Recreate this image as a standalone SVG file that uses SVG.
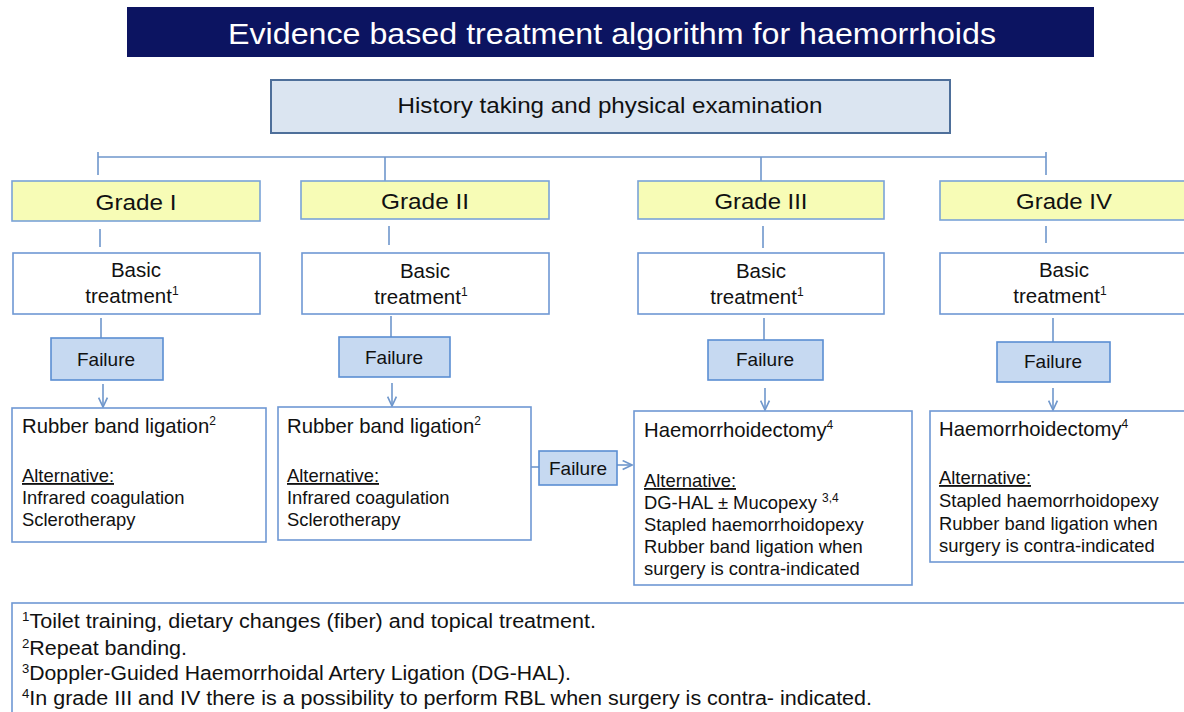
<svg xmlns="http://www.w3.org/2000/svg" width="1184" height="712" viewBox="0 0 1184 712">
  <defs>
    <style>
      text { font-family: "Liberation Sans", Arial, sans-serif; fill: #111; }
      .title { fill: #ffffff; font-size: 30px; }
      .hist { fill: #dbe5f1; stroke: #4e6f9a; stroke-width: 2; }
      .grade { fill: #f7fcb6; stroke: #7aa3d8; stroke-width: 1.6; }
      .box { fill: #ffffff; stroke: #6f98d4; stroke-width: 1.6; }
      .fail { fill: #c6d9f1; stroke: #5b8ed3; stroke-width: 1.6; }
      .line { stroke: #6f97cc; stroke-width: 1.6; fill: none; }
      .g { font-size: 22px; text-anchor: middle; }
      .b { font-size: 20.5px; text-anchor: middle; }
      .f { font-size: 19px; text-anchor: middle; }
      .h { font-size: 20.3px; }
      .t { font-size: 18.4px; }
      .u { text-decoration: underline; }
      .n { font-size: 19.5px; }
    </style>
    <marker id="arr" viewBox="0 0 10 10" refX="9.5" refY="5" markerWidth="11" markerHeight="11" markerUnits="userSpaceOnUse" orient="auto">
      <path d="M1,1 L9.5,5 L1,9" fill="none" stroke="#6f97cc" stroke-width="1.5"/>
    </marker>
  </defs>

  <!-- title banner -->
  <g id="title">
    <rect x="127" y="7" width="967" height="50" fill="#0c1461"/>
    <text class="title" x="612" y="44" text-anchor="middle" textLength="768" lengthAdjust="spacingAndGlyphs">Evidence based treatment algorithm for haemorrhoids</text>
  </g>

  <g id="history">
    <rect class="hist" x="271" y="80" width="679" height="53"/>
    <text x="610" y="113" font-size="22" text-anchor="middle" textLength="425" lengthAdjust="spacingAndGlyphs">History taking and physical examination</text>
  </g>

  <!-- connectors -->
  <g id="connectors">
    <path class="line" d="M98,157 H1046 M98,152 V175 M385,157 V181 M761,157 V181 M1046,152 V175"/>
    <path class="line" d="M100,229 V247 M389,226 V245 M763,226 V248 M1046,226 V243"/>
    <path class="line" d="M101,318 V338 M391,316 V337 M764,318 V340 M1053,318 V342"/>
    <path class="line" d="M103,384 V407" marker-end="url(#arr)"/>
    <path class="line" d="M392,383 V406" marker-end="url(#arr)"/>
    <path class="line" d="M765,388 V410" marker-end="url(#arr)"/>
    <path class="line" d="M1053,388 V410" marker-end="url(#arr)"/>
    <path class="line" d="M529,467 H539"/>
    <path class="line" d="M617,465 H632" marker-end="url(#arr)"/>
  </g>

  <!-- grade headers -->
  <g id="grade1">
    <rect class="grade" x="12" y="181" width="248" height="40"/>
    <text class="g" x="136" y="210" textLength="81" lengthAdjust="spacingAndGlyphs">Grade I</text>
  </g>
  <g id="grade2">
    <rect class="grade" x="301" y="181" width="248" height="38"/>
    <text class="g" x="425" y="209" textLength="88" lengthAdjust="spacingAndGlyphs">Grade II</text>
  </g>
  <g id="grade3">
    <rect class="grade" x="638" y="181" width="246" height="38"/>
    <text class="g" x="761" y="209" textLength="93" lengthAdjust="spacingAndGlyphs">Grade III</text>
  </g>
  <g id="grade4">
    <rect class="grade" x="940" y="181" width="250" height="39"/>
    <text class="g" x="1064" y="209" textLength="96" lengthAdjust="spacingAndGlyphs">Grade IV</text>
  </g>

  <!-- basic treatment -->
  <g id="basic1">
    <rect class="box" x="13" y="253" width="247" height="61"/>
    <text class="b" x="136" y="277">Basic</text>
    <text class="b" x="132" y="303">treatment<tspan font-size="12" dy="-8">1</tspan></text>
  </g>
  <g id="basic2">
    <rect class="box" x="302" y="253" width="247" height="61"/>
    <text class="b" x="425" y="278">Basic</text>
    <text class="b" x="421" y="304">treatment<tspan font-size="12" dy="-8">1</tspan></text>
  </g>
  <g id="basic3">
    <rect class="box" x="638" y="253" width="246" height="61"/>
    <text class="b" x="761" y="278">Basic</text>
    <text class="b" x="757" y="304">treatment<tspan font-size="12" dy="-8">1</tspan></text>
  </g>
  <g id="basic4">
    <rect class="box" x="940" y="253" width="250" height="61"/>
    <text class="b" x="1064" y="277">Basic</text>
    <text class="b" x="1060" y="303">treatment<tspan font-size="12" dy="-8">1</tspan></text>
  </g>

  <!-- failure labels -->
  <g id="fail1">
    <rect class="fail" x="51" y="338" width="112" height="42"/>
    <text class="f" x="106" y="366">Failure</text>
  </g>
  <g id="fail2">
    <rect class="fail" x="339" y="337" width="111" height="40"/>
    <text class="f" x="394" y="364">Failure</text>
  </g>
  <g id="fail3">
    <rect class="fail" x="708" y="340" width="115" height="40"/>
    <text class="f" x="765" y="366">Failure</text>
  </g>
  <g id="fail4">
    <rect class="fail" x="997" y="342" width="113" height="40"/>
    <text class="f" x="1053" y="368">Failure</text>
  </g>
  <g id="fail-mid">
    <rect class="fail" x="539" y="451" width="78" height="34"/>
    <text class="f" x="578" y="475">Failure</text>
  </g>

  <!-- treatment boxes -->
  <g id="treat1">
    <rect class="box" x="12" y="408" width="254" height="134"/>
    <text class="h" x="22" y="433">Rubber band ligation<tspan font-size="12" dy="-8">2</tspan></text>
    <text class="t u" x="22" y="482">Alternative:</text>
    <text class="t" x="22" y="504">Infrared coagulation</text>
    <text class="t" x="22" y="526">Sclerotherapy</text>
  </g>
  <g id="treat2">
    <rect class="box" x="278" y="407" width="253" height="133"/>
    <text class="h" x="287" y="433">Rubber band ligation<tspan font-size="12" dy="-8">2</tspan></text>
    <text class="t u" x="287" y="482">Alternative:</text>
    <text class="t" x="287" y="504">Infrared coagulation</text>
    <text class="t" x="287" y="526">Sclerotherapy</text>
  </g>
  <g id="treat3">
    <rect class="box" x="634" y="411" width="278" height="174"/>
    <text class="h" x="644" y="437">Haemorrhoidectomy<tspan font-size="12" dy="-8">4</tspan></text>
    <text class="t u" x="644" y="487">Alternative:</text>
    <text class="t" x="644" y="509">DG-HAL ± Mucopexy <tspan font-size="12" dy="-7">3,4</tspan></text>
    <text class="t" x="644" y="531">Stapled haemorrhoidopexy</text>
    <text class="t" x="644" y="553">Rubber band ligation when</text>
    <text class="t" x="644" y="575">surgery is contra-indicated</text>
  </g>
  <g id="treat4">
    <rect class="box" x="930" y="411" width="260" height="151"/>
    <text class="h" x="939" y="436">Haemorrhoidectomy<tspan font-size="12" dy="-8">4</tspan></text>
    <text class="t u" x="939" y="484">Alternative:</text>
    <text class="t" x="939" y="507">Stapled haemorrhoidopexy</text>
    <text class="t" x="939" y="530">Rubber band ligation when</text>
    <text class="t" x="939" y="552">surgery is contra-indicated</text>
  </g>

  <!-- footnotes -->
  <g id="footnotes">
    <rect class="box" x="12" y="603" width="1190" height="130"/>
    <text class="n" x="22" y="628" textLength="574" lengthAdjust="spacingAndGlyphs"><tspan font-size="12" dy="-7">1</tspan><tspan dy="7">Toilet training, dietary changes (fiber) and topical treatment.</tspan></text>
    <text class="n" x="22" y="655" textLength="165" lengthAdjust="spacingAndGlyphs"><tspan font-size="12" dy="-7">2</tspan><tspan dy="7">Repeat banding.</tspan></text>
    <text class="n" x="22" y="680" textLength="549" lengthAdjust="spacingAndGlyphs"><tspan font-size="12" dy="-7">3</tspan><tspan dy="7">Doppler-Guided Haemorrhoidal Artery Ligation (DG-HAL).</tspan></text>
    <text class="n" x="22" y="705" textLength="850" lengthAdjust="spacingAndGlyphs"><tspan font-size="12" dy="-7">4</tspan><tspan dy="7">In grade III and IV there is a possibility to perform RBL when surgery is contra- indicated.</tspan></text>
  </g>
</svg>
